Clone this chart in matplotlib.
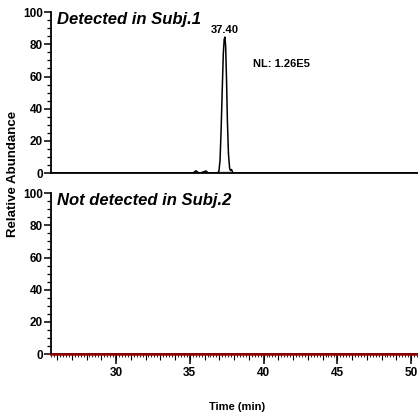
import numpy as np
import matplotlib.pyplot as plt
from matplotlib.ticker import MultipleLocator

plt.rcParams['font.family'] = ['Liberation Sans', 'DejaVu Sans']
plt.rcParams['font.weight'] = 'bold'

# chromatogram traces (time in min, relative abundance in %)
time1 = [25.6, 35.2, 35.3, 35.42, 35.55, 35.7, 35.95, 36.1, 36.25, 36.9, 36.98,
         37.05, 37.12, 37.2, 37.27, 37.33, 37.38, 37.43, 37.49, 37.55, 37.62,
         37.7, 37.76, 37.83, 37.9, 38.0, 50.5]
abund1 = [0, 0, 0.6, 1.4, 0.4, 0, 0.8, 1.3, 0, 0, 1.5,
          8, 26, 52, 74, 83, 84.5, 79, 58, 32, 12,
          3, 1.5, 2.2, 0.5, 0, 0]
time2 = [25.6, 50.5]
abund2 = [0, 0]

titles = ['Detected in Subj.1', 'Not detected in Subj.2']
peak_rt = 37.40
peak_label = '37.40'
nl_label = 'NL: 1.26E5'
xticks = [30, 35, 40, 45, 50]

fig = plt.figure(figsize=(4.18, 4.19), dpi=100)
ax1 = fig.add_axes([0.122, 0.587, 0.878, 0.384])
ax2 = fig.add_axes([0.122, 0.155, 0.878, 0.384])

for ax in (ax1, ax2):
    ax.set_xlim(25.59, 50.47)
    ax.set_ylim(0, 100)
    ax.spines['top'].set_visible(False)
    ax.spines['right'].set_visible(False)
    ax.spines['left'].set_linewidth(1.3)
    ax.spines['bottom'].set_linewidth(1.3)
    ax.yaxis.set_major_locator(MultipleLocator(20))
    ax.yaxis.set_minor_locator(MultipleLocator(5))
    ax.tick_params(axis='y', which='major', length=5, width=1.1, labelsize=8.5, pad=1)
    ax.tick_params(axis='y', which='minor', length=3, width=0.9)
    ax.set_facecolor('none')

ax1.plot(time1, abund1, color='black', lw=1.1)
ax1.fill_between([37.0, 37.7], 0, 1.5, color='#dddddd', lw=0)
ax1.tick_params(axis='x', which='both', bottom=False, labelbottom=False)
ax1.text(peak_rt, 86, peak_label, ha='center', va='bottom', fontsize=8, fontweight='bold')
ax1.text(39.26, 67.7, nl_label, ha='left', va='center', fontsize=8, fontweight='bold')

ax2.plot(time2, abund2, color='#9b0000', lw=1.8, clip_on=False, zorder=5)
ax2.set_xticks(xticks)
ax2.xaxis.set_minor_locator(MultipleLocator(0.2))
ax2.tick_params(axis='x', which='major', length=7, width=1.1, labelsize=8.5, pad=2)
ax2.tick_params(axis='x', which='minor', length=2.5, width=0.6)
# medium ticks every minute
sec = ax2.secondary_xaxis('bottom')
sec.set_xticks(np.arange(26, 51, 1))
sec.tick_params(axis='x', length=4.5, width=0.8, labelbottom=False)
sec.spines['bottom'].set_visible(False)

for ax, t in zip((ax1, ax2), titles):
    ax.text(0.016, 0.955, t, transform=ax.transAxes, ha='left', va='center',
            fontsize=12, fontweight='bold', fontstyle='italic')

fig.text(13 / 418, 1 - 174 / 419, 'Relative Abundance', rotation=90, ha='center',
         va='center', fontsize=9.5, fontweight='bold')
fig.text(237 / 418, 1 - 407 / 419, 'Time (min)', ha='center', va='center',
         fontsize=8, fontweight='bold')

fig.savefig('out.png', dpi=100)
